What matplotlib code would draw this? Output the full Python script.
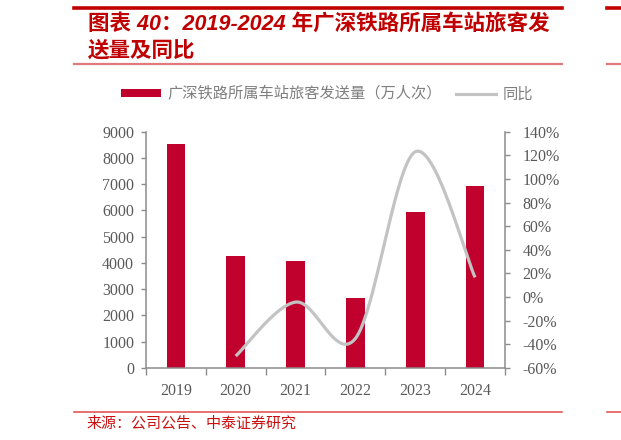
import numpy as np
import matplotlib
matplotlib.use("Agg")
import matplotlib.pyplot as plt
from matplotlib.lines import Line2D
from matplotlib.patches import Patch

plt.rcParams['font.family'] = ['Noto Sans CJK SC', 'DejaVu Sans']

# ---- data ----
years = ['2019', '2020', '2021', '2022', '2023', '2024']
volume = [8530, 4270, 4090, 2660, 5930, 6920]          # 万人次
yoy = [None, -49.9, -4.2, -35.0, 123.0, 16.7]          # %
left_ticks = [0, 1000, 2000, 3000, 4000, 5000, 6000, 7000, 8000, 9000]
right_ticks = [-60, -40, -20, 0, 20, 40, 60, 80, 100, 120, 140]
bar_label = '广深铁路所属车站旅客发送量（万人次）'
line_label = '同比'
title_l1 = '图表 40：2019-2024 年广深铁路所属车站旅客发'
title_l2 = '送量及同比'
source = '来源：公司公告、中泰证券研究'

W, H = 621, 440
fig = plt.figure(figsize=(W / 100, H / 100), dpi=100)

def fx(px):
    return px / W

def fy(py):
    return 1 - py / H

RED = '#C00000'
BAR = '#C0002D'
GRAY_AX = '#8C8C8C'
TXT = '#595959'

ax = fig.add_axes([fx(146), fy(368), fx(505) - fx(146), fy(131.7) - fy(368)])
x = np.arange(len(years))
ax.bar(x, volume, width=0.31, color=BAR, zorder=2)
ax.set_xlim(-0.5, len(years) - 0.5)
ax.set_ylim(0, 9000)
ax.set_yticks(left_ticks)
ax.set_yticklabels([str(v) for v in left_ticks])

# x ticks at boundaries, labels at centers
ax.set_xticks(np.arange(-0.5, len(years), 1.0))
ax.set_xticklabels([])
ax.set_xticks(x, minor=True)
ax.set_xticklabels(years, minor=True)
ax.tick_params(axis='x', which='major', length=5, width=1.0, color=GRAY_AX, direction='out')
ax.tick_params(axis='x', which='minor', length=0, pad=11, labelsize=11.5, labelcolor=TXT)
ax.tick_params(axis='y', length=3.5, width=1.0, color=GRAY_AX, pad=5, labelsize=11.5, labelcolor=TXT)
for lab in ax.get_xticklabels(minor=True) + ax.get_yticklabels():
    lab.set_family(['Liberation Serif'])

for s in ['top', 'right']:
    ax.spines[s].set_visible(False)
for s in ['left', 'bottom']:
    ax.spines[s].set_color(GRAY_AX)
    ax.spines[s].set_linewidth(1.1)

ax2 = ax.twinx()
ax2.set_ylim(-60, 140)
ax2.set_yticks(right_ticks)
ax2.set_yticklabels([f'{v}%' for v in right_ticks])
ax2.tick_params(axis='y', length=3.5, width=1.0, color=GRAY_AX, pad=9, labelsize=11.5, labelcolor=TXT)
for lab in ax2.get_yticklabels():
    lab.set_family(['Liberation Serif'])
for s in ['top', 'left', 'bottom']:
    ax2.spines[s].set_visible(False)
ax2.spines['right'].set_color(GRAY_AX)
ax2.spines['right'].set_linewidth(1.1)

# smoothed (Excel-style Bezier) YoY line
px = np.array([i for i, v in enumerate(yoy) if v is not None], dtype=float)
py = np.array([v for v in yoy if v is not None], dtype=float)
P = np.column_stack([px, py])
n = len(P)
pts = []
t = np.linspace(0, 1, 60)
for i in range(n - 1):
    p0 = P[i - 1] if i > 0 else P[i]
    p1 = P[i]
    p2 = P[i + 1]
    p3 = P[i + 2] if i + 2 < n else P[i + 1]
    c1 = p1 + (p2 - p0) / 6.0
    c2 = p2 - (p3 - p1) / 6.0
    seg = ((1 - t) ** 3)[:, None] * p1 + (3 * (1 - t) ** 2 * t)[:, None] * c1 \
        + (3 * (1 - t) * t ** 2)[:, None] * c2 + (t ** 3)[:, None] * p2
    pts.append(seg if i == 0 else seg[1:])
curve = np.vstack(pts)
ax2.plot(curve[:, 0], curve[:, 1], color='#C3C3C3', lw=2.3, solid_capstyle='butt', zorder=3)

# legend
handles = [Patch(facecolor=BAR, edgecolor='none', label=bar_label),
           Line2D([0], [0], color='#C3C3C3', lw=2.3, label=line_label)]
leg = fig.legend(handles=handles, loc='center', bbox_to_anchor=(fx(327), fy(94)), ncol=2,
                 frameon=False, fontsize=11.0, handlelength=2.6, handleheight=0.45,
                 handletextpad=0.45, columnspacing=0.9, labelcolor='#7F7F7F')

# title block
fig.add_artist(Line2D([fx(74), fx(562)], [fy(8), fy(8)], color=RED, lw=2.6))
fig.add_artist(Line2D([fx(74), fx(562)], [fy(64), fy(64)], color='#E07A7A', lw=1.6))
fig.text(fx(88), fy(24), title_l1, color=RED, fontsize=15.5, fontweight='bold',
         style='italic', va='center', ha='left', family=['Liberation Sans', 'Noto Sans CJK SC'])
fig.text(fx(88), fy(50), title_l2, color=RED, fontsize=15.5, fontweight='bold',
         style='italic', va='center', ha='left', family=['Noto Sans CJK SC'])

# footer
fig.add_artist(Line2D([fx(74), fx(562)], [fy(412), fy(412)], color='#E04848', lw=1.1))
fig.text(fx(86), fy(423), source, color='#CC1010', fontsize=10.8, va='center', ha='left')

# fragment of neighbouring panel at right edge
fig.add_artist(Line2D([fx(607), fx(621)], [fy(8), fy(8)], color=RED, lw=2.6))
fig.add_artist(Line2D([fx(607), fx(621)], [fy(64), fy(64)], color='#E07A7A', lw=1.6))
fig.add_artist(Line2D([fx(607), fx(621)], [fy(412), fy(412)], color='#E04848', lw=1.1))

fig.savefig('out.png', dpi=100)
